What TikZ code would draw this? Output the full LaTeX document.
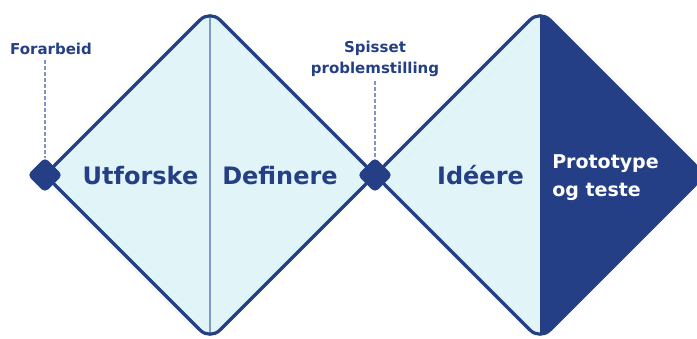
\documentclass[tikz,border=0pt]{standalone}
\usepackage{fontspec}
\setmainfont{DejaVu Sans}
\usetikzlibrary{shapes.geometric}

\definecolor{navy}{HTML}{243F85}
\definecolor{pale}{HTML}{E1F5F8}
\definecolor{divider}{HTML}{7B9CCB}
\definecolor{leadgray}{HTML}{7F95C2}

\tikzset{
	outline/.style={draw=navy, line width=3.2pt, rounded corners=14pt},
	phase/.style={font=\bfseries\fontsize{24}{28}\selectfont, text=navy, anchor=base, inner sep=0pt},
	note/.style={font=\bfseries\fontsize{15}{21}\selectfont, text=navy, inner sep=0pt},
	milestone/.style={diamond, fill=navy, draw=navy, line width=1pt, rounded corners=4pt, minimum size=34pt, inner sep=0pt},
	leader/.style={draw=leadgray, line width=2.4pt, dash pattern=on 3.5pt off 2.5pt}
}

\begin{document}
\begin{tikzpicture}[x=1pt, y=-1pt]
	\clip (0,0) rectangle (697,338);
	\fill[white] (0,0) rectangle (697,338);

	% first diamond: discover / define
	\begin{scope}
		\clip[rounded corners=14pt] (45,175) -- (210,10) -- (375,175) -- (210,340) -- cycle;
		\fill[pale] (40,0) rectangle (380,345);
		\draw[divider, line width=2pt] (210,0) -- (210,345);
	\end{scope}
	\draw[outline] (45,175) -- (210,10) -- (375,175) -- (210,340) -- cycle;

	% second diamond: ideate / prototype
	\begin{scope}
		\clip[rounded corners=14pt] (375,175) -- (540,10) -- (705,175) -- (540,340) -- cycle;
		\fill[pale] (370,0) rectangle (540,345);
		\fill[navy] (540,0) rectangle (710,345);
	\end{scope}
	\draw[outline] (375,175) -- (540,10) -- (705,175) -- (540,340) -- cycle;

	% phase labels
	\node[phase] (utforske) at (140.5,184) {Utforske};
	\node[phase] (definere) at (280,184) {Definere};
	\node[phase] (ideere) at (480.5,184) {Idéere};
	\node[font=\bfseries\fontsize{19}{28}\selectfont, text=white, align=left, inner sep=0pt] (prototype) at (605.5,178) {Prototype\\og teste};

	% milestones
	\node[note, anchor=base] (forarbeid) at (51,54) {Forarbeid};
	\node[note, align=center] (spisset) at (375,59) {Spisset\\problemstilling};
	\node[milestone] (start) at (45,175) {};
	\node[milestone] (mid) at (375,175) {};

	\draw[leader, shorten <=6pt] (start |- forarbeid.south) -- (start.north);
	\draw[leader, shorten <=4pt] (spisset.south) -- (mid.north);
\end{tikzpicture}
\end{document}
